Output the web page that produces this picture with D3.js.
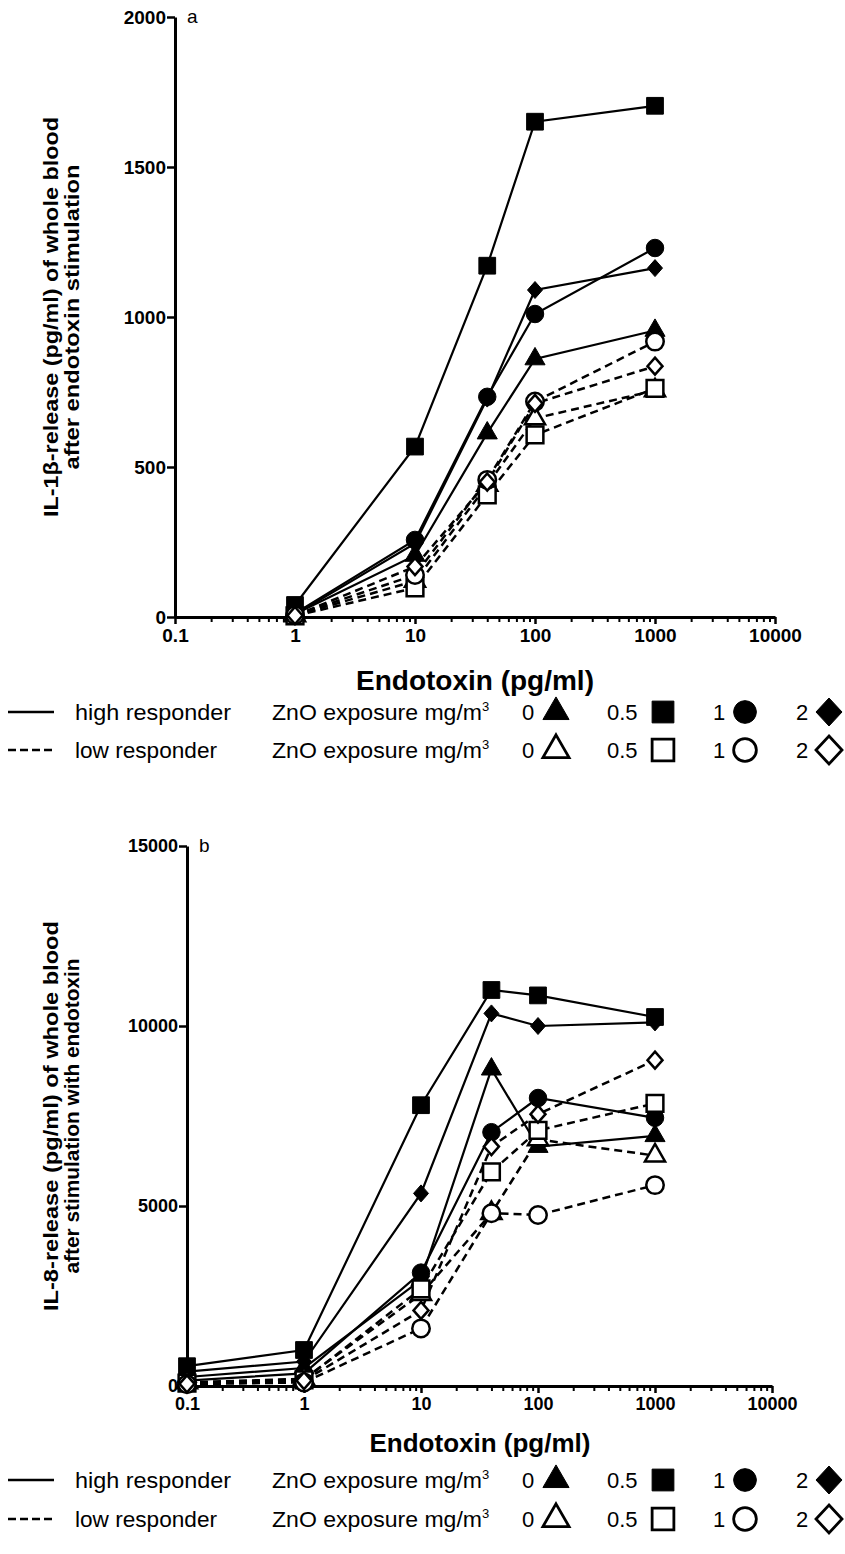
<!DOCTYPE html>
<html>
<head>
<meta charset="utf-8">
<script src="https://cdn.jsdelivr.net/npm/d3@7"></script>
<style>
  body { margin: 0; background: #fff; }
  svg { display: block; }
  text { font-family: "Liberation Sans", Arial, sans-serif; fill: #000; }
</style>
</head>
<body>
<svg id="chart" width="845" height="1554"></svg>
<script>
// ---- Panel a: IL-1beta release, endotoxin doses (pg/ml)
const doseA = [1, 10, 40, 100, 1000];
const il1bHigh0  = [10, 205, 613, 860, 955];
const il1bHigh05 = [40, 568, 1171, 1651, 1704];
const il1bHigh1  = [12, 257, 734, 1010, 1230];
const il1bHigh2  = [8, 245, 728, 1090, 1163];
const il1bLow0   = [5, 120, 440, 662, 755];
const il1bLow05  = [4, 97, 407, 607, 762];
const il1bLow1   = [6, 140, 457, 718, 918];
const il1bLow2   = [5, 168, 450, 712, 836];

// ---- Panel b: IL-8 release
const doseB = [0.1, 1, 10, 40, 100, 1000];
const il8High0  = [250, 500, 2950, 8800, 6650, 6950];
const il8High05 = [550, 1000, 7800, 11000, 10850, 10250];
const il8High1  = [150, 350, 3150, 7050, 8000, 7450];
const il8High2  = [400, 680, 5350, 10350, 10000, 10100];
const il8Low0   = [100, 200, 2550, 4800, 6850, 6400];
const il8Low05  = [80, 170, 2700, 5950, 7100, 7850];
const il8Low1   = [50, 100, 1600, 4800, 4750, 5580];
const il8Low2   = [60, 150, 2100, 6650, 7550, 9050];

// ---- Axes and legend labels
const xTickValues = [0.1, 1, 10, 100, 1000, 10000];
const yTicksA = [0, 500, 1000, 1500, 2000];
const yTicksB = [0, 5000, 10000, 15000];
const exposureLabels = ["0", "0.5", "1", "2"];
const shapeNames = ["triangle", "square", "circle", "diamond"];
const responderLabels = ["high responder", "low responder"];

const svg = d3.select("#chart");

function symbolPath(shape, scale) {
  const s = scale || 1;
  if (shape === "triangle") return d3.symbol(d3.symbolTriangle, 175 * s * s)();
  if (shape === "square")   return d3.symbol(d3.symbolSquare, 280 * s * s)();
  if (shape === "circle")   return d3.symbol(d3.symbolCircle, 240 * s * s)();
  const h = 8.5 * s, w = 7.5 * s;           // diamond
  return `M0,${-h}L${w},0L0,${h}L${-w},0Z`;
}

function drawPanel(cfg) {
  const g = svg.append("g");
  const x = d3.scaleLog().domain([0.1, 10000]).range(cfg.xRange);
  const y = d3.scaleLinear().domain([0, cfg.yMax]).range(cfg.yRange);

  // minor log ticks
  const minor = [];
  for (let d = 0.1; d < 10000; d *= 10)
    for (let k = 2; k <= 9; k++) minor.push(d * k);
  g.append("g")
    .attr("transform", `translate(0,${cfg.yRange[0]})`)
    .call(d3.axisBottom(x).tickValues(minor).tickSize(5).tickFormat(""))
    .call(a => a.select(".domain").remove())
    .call(a => a.selectAll("line").attr("stroke-width", 2));

  const xa = g.append("g")
    .attr("transform", `translate(0,${cfg.yRange[0]})`)
    .call(d3.axisBottom(x).tickValues(xTickValues).tickSize(7).tickSizeOuter(0)
      .tickFormat(d => d < 1 ? "0.1" : d3.format("d")(d)));
  xa.select(".domain").attr("stroke-width", 3);
  xa.selectAll("line").attr("stroke-width", 2.5);
  xa.selectAll("text").attr("font-size", cfg.tickFont).attr("font-weight", "bold")
    .attr("dy", "0.8em").attr("font-family", '"Liberation Sans", Arial, sans-serif');

  const ya = g.append("g")
    .attr("transform", `translate(${cfg.xRange[0]},0)`)
    .call(d3.axisLeft(y).tickValues(cfg.yTicks).tickSize(8).tickSizeOuter(0)
      .tickFormat(d3.format("d")));
  ya.select(".domain").attr("stroke-width", 3);
  ya.selectAll("line").attr("stroke-width", 2.5);
  ya.selectAll("text").attr("font-size", cfg.tickFont).attr("font-weight", "bold")
    .attr("x", -9).attr("font-family", '"Liberation Sans", Arial, sans-serif');

  // panel letter
  g.append("text").attr("x", cfg.xRange[0] + 12).attr("y", cfg.yRange[1] + 6)
    .attr("font-size", 19).text(cfg.letter);

  // y title (two lines, stretched along the axis)
  const yc = (cfg.yRange[0] + cfg.yRange[1]) / 2;
  cfg.yTitle.forEach((t, i) => {
    g.append("text")
      .attr("transform", `translate(${cfg.yTitleX + i * 21},${yc}) rotate(-90)`)
      .attr("text-anchor", "middle").attr("font-size", 20).attr("font-weight", "bold")
      .attr("textLength", cfg.yTitleLen[i]).attr("lengthAdjust", "spacingAndGlyphs")
      .text(t);
  });

  // x title
  g.append("text").attr("x", cfg.xTitleX).attr("y", cfg.xTitleY)
    .attr("text-anchor", "middle").attr("font-size", cfg.xTitleFont).attr("font-weight", "bold")
    .text("Endotoxin (pg/ml)");

  // series
  const line = d3.line().x(d => x(d[0])).y(d => y(d[1]));
  const series = cfg.series;
  series.filter(s => s.low).forEach(s => {
    g.append("path").datum(cfg.dose.map((d, i) => [d, s.values[i]]))
      .attr("d", line).attr("fill", "none").attr("stroke", "#000")
      .attr("stroke-width", 2.5).attr("stroke-dasharray", "8,5");
  });
  series.filter(s => !s.low).forEach(s => {
    g.append("path").datum(cfg.dose.map((d, i) => [d, s.values[i]]))
      .attr("d", line).attr("fill", "none").attr("stroke", "#000").attr("stroke-width", 2.2);
  });
  series.forEach(s => {
    g.selectAll(null).data(cfg.dose.map((d, i) => [d, s.values[i]])).join("path")
      .attr("transform", d => `translate(${x(d[0])},${y(d[1])})`)
      .attr("d", symbolPath(s.shape, 1))
      .attr("fill", s.low ? "#fff" : "#000")
      .attr("stroke", "#000").attr("stroke-width", s.low ? 2.5 : 1);
  });

  // legend
  const pos = [[522, 556], [607, 663], [713, 745], [796, 829]];
  responderLabels.forEach((lab, r) => {
    const ly = cfg.legendY[r];
    const lg = g.append("g");
    lg.append("line").attr("x1", 8).attr("x2", 54).attr("y1", ly - 8).attr("y2", ly - 8)
      .attr("stroke", "#000").attr("stroke-width", 2.5)
      .attr("stroke-dasharray", r === 1 ? "8,4" : null);
    lg.append("text").attr("x", 75).attr("y", ly).attr("font-size", 22)
      .attr("textLength", r === 0 ? 156 : 142).attr("lengthAdjust", "spacingAndGlyphs").text(lab);
    const zt = lg.append("text").attr("x", 272).attr("y", ly).attr("font-size", 22);
    zt.append("tspan").attr("textLength", 210).attr("lengthAdjust", "spacingAndGlyphs")
      .text("ZnO exposure mg/m");
    zt.append("tspan").attr("font-size", 13).attr("dy", -9).text("3");
    exposureLabels.forEach((e, k) => {
      lg.append("text").attr("x", pos[k][0]).attr("y", ly).attr("font-size", 22).text(e);
      lg.append("path").attr("transform", `translate(${pos[k][1]},${ly - 8})`)
        .attr("d", shapeNames[k] === "diamond" ? "M0,-14L13,0L0,14L-13,0Z" : symbolPath(shapeNames[k], 1.3))
        .attr("fill", r === 1 ? "#fff" : "#000").attr("stroke", "#000")
        .attr("stroke-width", r === 1 ? 2.8 : 1);
    });
  });
}

const seriesA = [
  { shape: "triangle", low: false, values: il1bHigh0 },
  { shape: "square",   low: false, values: il1bHigh05 },
  { shape: "circle",   low: false, values: il1bHigh1 },
  { shape: "diamond",  low: false, values: il1bHigh2 },
  { shape: "triangle", low: true,  values: il1bLow0 },
  { shape: "square",   low: true,  values: il1bLow05 },
  { shape: "circle",   low: true,  values: il1bLow1 },
  { shape: "diamond",  low: true,  values: il1bLow2 }
];
const seriesB = [
  { shape: "triangle", low: false, values: il8High0 },
  { shape: "square",   low: false, values: il8High05 },
  { shape: "circle",   low: false, values: il8High1 },
  { shape: "diamond",  low: false, values: il8High2 },
  { shape: "triangle", low: true,  values: il8Low0 },
  { shape: "square",   low: true,  values: il8Low05 },
  { shape: "circle",   low: true,  values: il8Low1 },
  { shape: "diamond",  low: true,  values: il8Low2 }
];

drawPanel({
  letter: "a", dose: doseA, series: seriesA,
  xRange: [175, 775], yRange: [617, 17], yMax: 2000, yTicks: yTicksA,
  tickFont: 19, yTitleX: 58, yTitleLen: [400, 305],
  yTitle: ["IL-1\u03b2-release (pg/ml) of whole blood", "after endotoxin stimulation"],
  xTitleX: 475, xTitleY: 690, xTitleFont: 28, legendY: [720, 758]
});
drawPanel({
  letter: "b", dose: doseB, series: seriesB,
  xRange: [187, 772], yRange: [1386, 846], yMax: 15000, yTicks: yTicksB,
  tickFont: 18, yTitleX: 58, yTitleLen: [390, 315],
  yTitle: ["IL-8-release (pg/ml) of whole blood", "after stimulation with endotoxin"],
  xTitleX: 480, xTitleY: 1452, xTitleFont: 26, legendY: [1488, 1527]
});
</script>
</body>
</html>
